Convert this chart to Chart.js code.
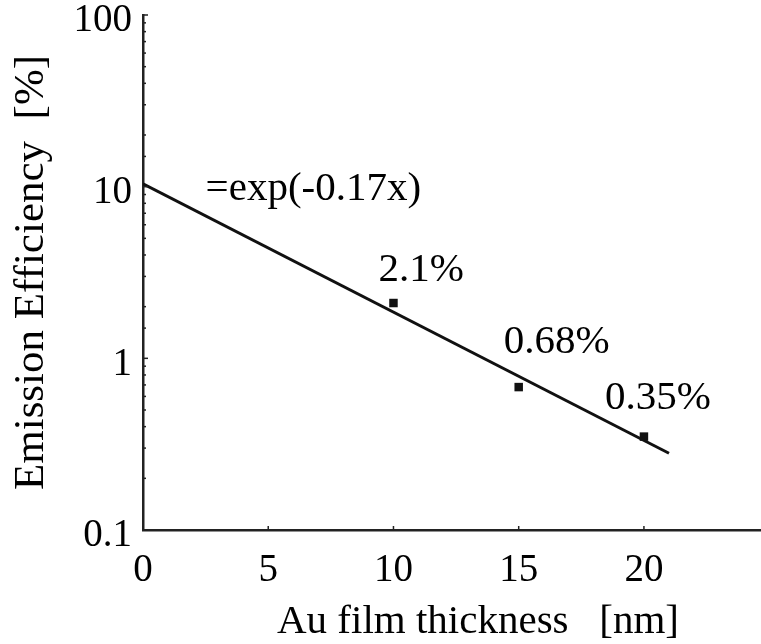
<!DOCTYPE html>
<html>
<head>
<meta charset="utf-8">
<title>Emission Efficiency</title>
<script src="https://cdn.jsdelivr.net/npm/chart.js@4.4.1/dist/chart.umd.min.js"></script>
<style>
    body { margin: 0; background: #fff; overflow: hidden; }
    #wrap { width: 761px; height: 644px; overflow: hidden; }
</style>
</head>
<body>
<div id="wrap"><canvas id="chart_eff" width="819" height="644"></canvas></div>
<script>

// measured emission efficiency vs Au film thickness
var thickness = [10, 15, 20];
var efficiency = [2.1, 0.68, 0.35];
var pointLabels = ['2.1%', '0.68%', '0.35%'];

// fitted exponential, drawn between its two end points
var fitX = [0, 21];
var fitY = [10.4, 0.28];
var fitLabel = '=exp(-0.17x)';

// axis ticks
var xTicks = [0, 5, 10, 15, 20];
var yLabels = [0.1, 1, 10, 100];

var FONT = "'Liberation Serif', 'Times New Roman', serif";
var INK = '#000';

function isDecade(v) {
    for (let i = 0; i < yLabels.length; i++) {
        if (Math.abs(v - yLabels[i]) < yLabels[i] * 1e-6) return i;
    }
    return -1;
}

// small tick marks pointing into the plot
const innerTicks = {
    id: 'innerTicks',
    afterDraw(chart) {
        const ctx = chart.ctx;
        const area = chart.chartArea;
        const sx = chart.scales.x;
        const sy = chart.scales.y;
        ctx.save();
        ctx.strokeStyle = '#222';
        ctx.lineWidth = 1.5;
        sy.ticks.forEach((t) => {
            const py = sy.getPixelForValue(t.value);
            const len = isDecade(t.value) >= 0 ? 5 : 3;
            ctx.beginPath();
            ctx.moveTo(area.left, py);
            ctx.lineTo(area.left + len, py);
            ctx.stroke();
        });
        sx.ticks.forEach((t) => {
            const px = sx.getPixelForValue(t.value);
            ctx.beginPath();
            ctx.moveTo(px, area.bottom);
            ctx.lineTo(px, area.bottom - 4);
            ctx.stroke();
        });
        ctx.restore();
    }
};

// value labels next to the points and the fit equation
const valueLabels = {
    id: 'valueLabels',
    afterDatasetsDraw(chart, args, opts) {
        const ctx = chart.ctx;
        const sx = chart.scales.x;
        const sy = chart.scales.y;
        ctx.save();
        ctx.fillStyle = INK;
        ctx.font = '41px ' + FONT;
        ctx.textAlign = 'left';
        ctx.textBaseline = 'middle';
        for (let i = 0; i < thickness.length; i++) {
            const px = sx.getPixelForValue(thickness[i]);
            const py = sy.getPixelForValue(efficiency[i]);
            const off = opts.offsets[i];
            ctx.fillText(pointLabels[i], px + off[0], py + off[1]);
        }
        ctx.fillText(fitLabel,
            sx.getPixelForValue(opts.eqAt[0]),
            sy.getPixelForValue(opts.eqAt[1]) + 3);
        ctx.restore();
    }
};

function drawChart_eff() {

    const fitData = fitX.map((v, i) => ({ x: v, y: fitY[i] }));
    const pointData = thickness.map((v, i) => ({ x: v, y: efficiency[i] }));

    new Chart(document.getElementById('chart_eff').getContext('2d'), {
        type: 'scatter',
        data: {
            datasets: [
                {
                    label: 'fit',
                    data: fitData,
                    showLine: true,
                    borderColor: '#111',
                    borderWidth: 3,
                    pointRadius: 0,
                    fill: false,
                },
                {
                    label: 'measured',
                    data: pointData,
                    showLine: false,
                    pointStyle: 'rect',
                    pointRadius: 6,
                    backgroundColor: '#111',
                    borderColor: '#111',
                    borderWidth: 0,
                }
            ],
        },
        options: {
            responsive: false,
            animation: false,
            events: [],
            layout: {
                padding: { top: 15, right: 0, bottom: 0, left: 0 }
            },
            plugins: {
                legend: { display: false },
                tooltip: { enabled: false },
                valueLabels: {
                    offsets: [[-15, -33], [-15, -45], [-39, -38]],
                    eqAt: [2.5, 10],
                },
            },
            scales: {
                x: {
                    type: 'linear',
                    min: 0,
                    max: 26.75,
                    border: { color: '#222', width: 2.5 },
                    grid: { display: false, drawTicks: false },
                    afterBuildTicks: (s) => { s.ticks = xTicks.map((v) => ({ value: v })); },
                    afterFit: (s) => { s.height = 114; s.paddingLeft = 0; s.paddingRight = 0; },
                    ticks: {
                        autoSkip: false,
                        maxRotation: 0,
                        padding: 17,
                        color: INK,
                        font: { family: FONT, size: 39 },
                    },
                    title: {
                        display: true,
                        text: 'Au film thickness   [nm]',
                        color: INK,
                        font: { family: FONT, size: 41, lineHeight: 1 },
                        padding: { top: 0, bottom: 1 },
                    }
                },
                y: {
                    type: 'logarithmic',
                    min: 0.1,
                    max: 100,
                    border: { color: '#222', width: 2.5 },
                    grid: { display: false, drawTicks: false },
                    afterFit: (s) => { s.width = 143; s.paddingTop = 0; s.paddingBottom = 0; },
                    ticks: {
                        autoSkip: false,
                        padding: 11,
                        labelOffset: 6,
                        color: INK,
                        font: { family: FONT, size: 39 },
                        callback: (v) => {
                            const k = isDecade(v);
                            return k >= 0 ? String(yLabels[k]) : '';
                        },
                    },
                    title: {
                        display: true,
                        text: 'Emission Efficiency  [%]',
                        color: INK,
                        font: { family: FONT, size: 43, lineHeight: 1 },
                        padding: { top: 10, bottom: 0 },
                    }
                }
            }
        },
        plugins: [innerTicks, valueLabels]
    });
}

drawChart_eff();

</script>
</body>
</html>
